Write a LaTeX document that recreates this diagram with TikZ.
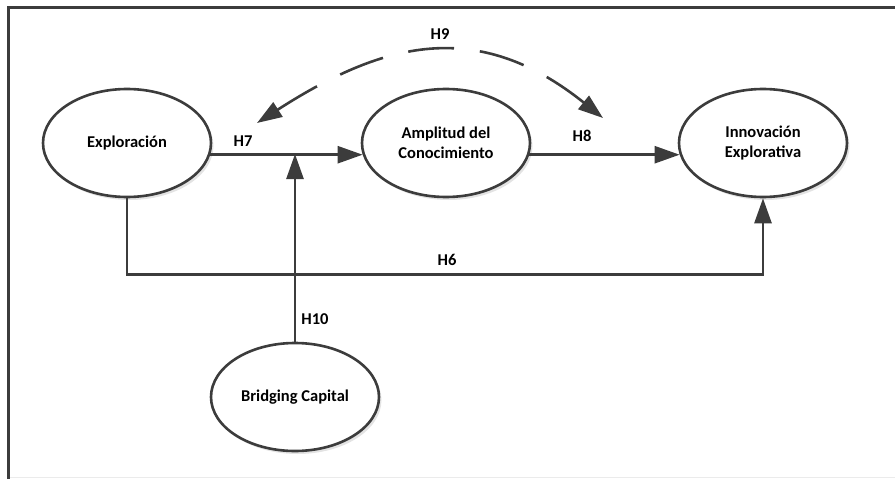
\documentclass[tikz,border=0pt]{standalone}
\usepackage{fontspec}
\setmainfont{Carlito}
\usetikzlibrary{shapes.geometric,arrows.meta,shadows}
\definecolor{linec}{HTML}{3C3C3C}
\tikzset{
  construct/.style={ellipse, draw=linec, line width=2.6pt, fill=white,
    minimum width=168pt, minimum height=108pt, inner sep=0pt, align=center,
    font=\fontsize{16.5}{19.5}\selectfont\bfseries,
    drop shadow={shadow xshift=2.5pt, shadow yshift=-3pt, opacity=0.22, fill=black!50}},
  hyp/.style={font=\fontsize{16.5}{19.5}\selectfont\bfseries, inner sep=0pt},
  link/.style={draw=linec, line width=2.6pt, -{Triangle[length=25pt,width=17pt]}},
  both/.style={draw=linec, line width=2.6pt, dash pattern=on 46pt off 26pt,
    {Triangle[length=25pt,width=17pt]}-{Triangle[length=25pt,width=17pt]}}
}
\begin{document}
\begin{tikzpicture}[x=1pt,y=-1pt]
  \useasboundingbox (0,0) rectangle (895,479);
  % frame
  \draw[linec, line width=3pt] (895,7) -- (8,7) -- (8,479);
  \draw[black!8, line width=1pt] (10,477) -- (895,477);

  % constructs
  \node[construct] (expl)   at (127,143) {Exploración};
  \node[construct] (ampl)   at (446,143) {Amplitud del\\Conocimiento};
  \node[construct] (innov)  at (763,143) {Innovación\\Explorativa};
  \node[construct] (bridge) at (295,397) {Bridging Capital};

  % junction of the moderating path on H7
  \coordinate (mod) at (295,154);
  % free ends of the H9 curve
  \coordinate (h9a) at (257,123);
  \coordinate (h9b) at (603,118);

  % paths
  \draw[link] (expl.-8) -- (ampl.188);
  \draw[link] (ampl.-8) -- (innov.188);
  \draw[link] (bridge.north) -- (mod);
  \draw[link] (expl.south) -- ++(0,76) -| (innov.south);
  \draw[both] (h9a) .. controls (383,42) and (477,17) .. (h9b);

  % hypothesis labels
  \node[hyp] (l7)  at (243,141) {H7};
  \node[hyp] (l8)  at (582,136) {H8};
  \node[hyp] (l9)  at (440,34)  {H9};
  \node[hyp] (l6)  at (447,260) {H6};
  \node[hyp] (l10) at (315,319) {H10};
\end{tikzpicture}
\end{document}
